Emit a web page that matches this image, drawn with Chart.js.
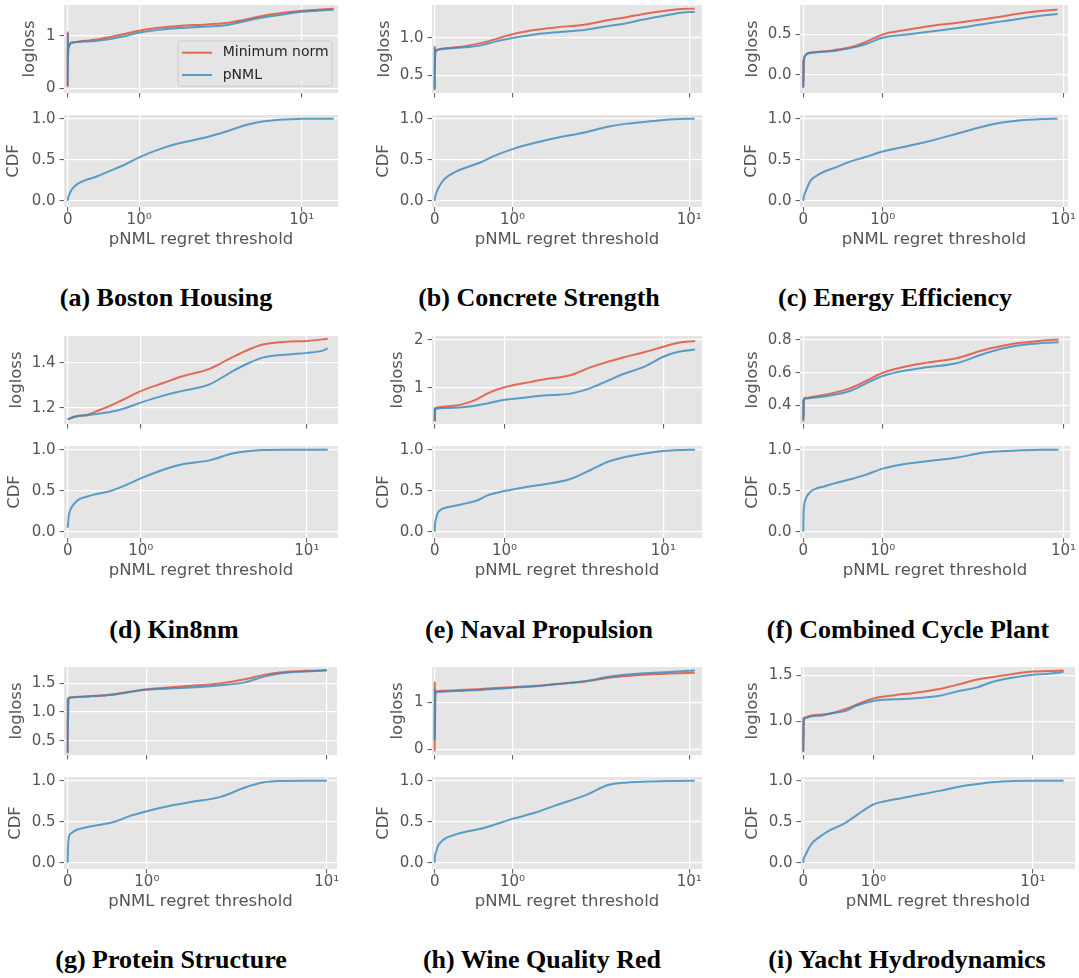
<!DOCTYPE html>
<html>
<head>
<meta charset="utf-8">
<script src="https://cdn.jsdelivr.net/npm/chart.js@4.4.1/dist/chart.umd.min.js"></script>
<style>
  html, body { margin: 0; padding: 0; background: #fff; }
  #page { position: relative; width: 1079px; height: 978px; overflow: hidden; }
  #page canvas { position: absolute; }
  .caption {
    position: absolute; white-space: nowrap; color: #000;
    font-family: 'Liberation Serif', 'Times New Roman', serif; font-weight: bold; font-size: 26px;
    transform: translate(-50%, -50%);
  }
</style>
</head>
<body>
<div id="page"></div>
<script>
// x tick values / labels (threshold axis)
const xTickValues = [0, 1, 10];
const xTickLabels = ['0', '10⁰', '10¹'];

// (a) Boston Housing
const bostonX = [0, 0.001, 0.002, 0.004, 0.01, 0.03, 0.06, 0.1, 0.2, 0.3, 0.5, 0.7, 1, 1.5, 2, 3, 4, 5, 6, 8, 10, 12, 14.5];
const bostonMinNorm = [0.02, 1.08, 0.5, 0.72, 0.8, 0.87, 0.88, 0.89, 0.91, 0.93, 0.98, 1.03, 1.10, 1.16, 1.19, 1.22, 1.25, 1.31, 1.37, 1.44, 1.48, 1.50, 1.52];
const bostonPnml = [0.05, 1.05, 0.52, 0.7, 0.78, 0.86, 0.875, 0.885, 0.895, 0.905, 0.94, 0.99, 1.06, 1.12, 1.15, 1.18, 1.21, 1.28, 1.34, 1.41, 1.46, 1.48, 1.50];
const bostonCdf = [0, 0.01, 0.02, 0.035, 0.06, 0.12, 0.17, 0.21, 0.26, 0.29, 0.365, 0.43, 0.53, 0.635, 0.70, 0.775, 0.85, 0.92, 0.96, 0.99, 0.998, 1.0, 1.0];

// (b) Concrete Strength
const concreteX = [0, 0.001, 0.002, 0.004, 0.01, 0.03, 0.06, 0.1, 0.2, 0.3, 0.5, 0.7, 1, 1.5, 2, 3, 4, 5, 6, 8, 10, 10.6];
const concreteMinNorm = [0.3, 0.89, 0.6, 0.8, 0.83, 0.845, 0.855, 0.86, 0.875, 0.89, 0.93, 0.98, 1.05, 1.11, 1.14, 1.18, 1.24, 1.28, 1.32, 1.37, 1.39, 1.39];
const concretePnml = [0.32, 0.87, 0.58, 0.78, 0.82, 0.84, 0.85, 0.855, 0.865, 0.875, 0.9, 0.95, 1.0, 1.05, 1.075, 1.11, 1.16, 1.2, 1.245, 1.31, 1.345, 1.345];
const concreteCdf = [0, 0.01, 0.025, 0.045, 0.08, 0.15, 0.22, 0.28, 0.355, 0.40, 0.47, 0.55, 0.63, 0.71, 0.765, 0.835, 0.905, 0.94, 0.96, 0.99, 1.0, 1.0];

// (c) Energy Efficiency
const energyX = [0, 0.001, 0.002, 0.004, 0.01, 0.03, 0.06, 0.1, 0.2, 0.3, 0.5, 0.7, 1, 1.5, 2, 3, 4, 5, 6, 8, 9.4];
const energyMinNorm = [-0.17, 0.2, -0.08, 0.15, 0.22, 0.26, 0.275, 0.28, 0.29, 0.305, 0.34, 0.40, 0.50, 0.56, 0.60, 0.645, 0.685, 0.72, 0.755, 0.795, 0.81];
const energyPnml = [-0.15, 0.18, -0.1, 0.14, 0.22, 0.255, 0.27, 0.275, 0.285, 0.295, 0.33, 0.375, 0.46, 0.50, 0.53, 0.58, 0.625, 0.66, 0.69, 0.735, 0.755];
const energyCdf = [0, 0.01, 0.025, 0.045, 0.08, 0.15, 0.24, 0.29, 0.36, 0.40, 0.48, 0.53, 0.60, 0.665, 0.72, 0.82, 0.90, 0.95, 0.975, 0.995, 1.0];

// (d) Kin8nm
const kinX = [0, 0.01, 0.03, 0.06, 0.1, 0.2, 0.3, 0.5, 0.7, 1, 1.5, 2, 3, 4, 5, 6, 8, 10, 12, 12.7];
const kinMinNorm = [1.149, 1.152, 1.155, 1.161, 1.165, 1.17, 1.185, 1.212, 1.239, 1.275, 1.311, 1.34, 1.374, 1.423, 1.46, 1.483, 1.495, 1.498, 1.505, 1.508];
const kinPnml = [1.149, 1.152, 1.155, 1.161, 1.165, 1.168, 1.173, 1.183, 1.198, 1.224, 1.255, 1.275, 1.305, 1.36, 1.40, 1.425, 1.438, 1.445, 1.455, 1.465];
const kinCdf = [0.05, 0.2, 0.285, 0.34, 0.39, 0.43, 0.46, 0.5, 0.56, 0.65, 0.755, 0.82, 0.87, 0.95, 0.985, 0.996, 1.0, 1.0, 1.0, 1.0];

// (e) Naval Propulsion
const navalX = [0, 0.001, 0.002, 0.004, 0.01, 0.03, 0.06, 0.1, 0.2, 0.3, 0.5, 0.7, 1, 1.5, 2, 3, 4, 5, 6, 8, 10, 12, 14.6];
const navalMinNorm = [0.30, 0.58, 0.35, 0.55, 0.58, 0.59, 0.60, 0.61, 0.625, 0.655, 0.755, 0.895, 1.014, 1.105, 1.175, 1.265, 1.433, 1.545, 1.63, 1.75, 1.86, 1.944, 1.98];
const navalPnml = [0.30, 0.57, 0.33, 0.54, 0.565, 0.57, 0.575, 0.578, 0.585, 0.595, 0.63, 0.68, 0.75, 0.80, 0.84, 0.88, 1.0, 1.15, 1.28, 1.45, 1.65, 1.755, 1.80];
const navalCdf = [0, 0.05, 0.08, 0.11, 0.147, 0.23, 0.27, 0.29, 0.315, 0.336, 0.378, 0.45, 0.496, 0.546, 0.576, 0.643, 0.756, 0.853, 0.903, 0.954, 0.983, 0.995, 1.0];

// (f) Combined Cycle Plant
const ccppX = [0, 0.001, 0.002, 0.004, 0.01, 0.03, 0.06, 0.1, 0.2, 0.3, 0.5, 0.7, 1, 1.5, 2, 3, 4, 5, 6, 8, 9.5];
const ccppMinNorm = [0.30, 0.44, 0.33, 0.42, 0.445, 0.447, 0.45, 0.455, 0.465, 0.478, 0.506, 0.545, 0.6, 0.64, 0.662, 0.69, 0.735, 0.762, 0.78, 0.797, 0.804];
const ccppPnml = [0.31, 0.435, 0.32, 0.41, 0.44, 0.442, 0.445, 0.448, 0.455, 0.465, 0.49, 0.53, 0.58, 0.615, 0.633, 0.66, 0.71, 0.745, 0.765, 0.782, 0.787];
const ccppCdf = [0, 0.12, 0.2, 0.27, 0.35, 0.43, 0.486, 0.52, 0.556, 0.59, 0.64, 0.69, 0.77, 0.83, 0.86, 0.905, 0.96, 0.98, 0.99, 1.0, 1.0];

// (g) Protein Structure
const proteinX = [0, 0.001, 0.002, 0.004, 0.01, 0.03, 0.06, 0.1, 0.2, 0.3, 0.5, 0.7, 1, 1.5, 2, 3, 4, 5, 6, 8, 10];
const proteinMinNorm = [0.28, 1.25, 0.72, 1.1, 1.24, 1.255, 1.26, 1.265, 1.275, 1.285, 1.31, 1.35, 1.395, 1.43, 1.455, 1.5, 1.57, 1.645, 1.685, 1.715, 1.725];
const proteinPnml = [0.3, 1.23, 0.74, 1.08, 1.24, 1.25, 1.255, 1.26, 1.27, 1.28, 1.305, 1.345, 1.385, 1.41, 1.425, 1.465, 1.515, 1.615, 1.67, 1.705, 1.725];
const proteinCdf = [0, 0.1, 0.17, 0.235, 0.318, 0.36, 0.39, 0.41, 0.44, 0.46, 0.5, 0.566, 0.628, 0.698, 0.74, 0.806, 0.917, 0.98, 0.996, 1.0, 1.0];

// (h) Wine Quality Red
const wineX = [0, 0.001, 0.002, 0.004, 0.01, 0.03, 0.06, 0.1, 0.2, 0.3, 0.5, 0.7, 1, 1.5, 2, 3, 4, 5, 6, 8, 10, 10.6];
const wineMinNorm = [-0.05, 1.45, 0.3, 1.1, 1.24, 1.245, 1.25, 1.255, 1.265, 1.275, 1.29, 1.31, 1.33, 1.36, 1.395, 1.45, 1.53, 1.57, 1.595, 1.62, 1.635, 1.64];
const winePnml = [0.2, 1.3, 0.25, 1.05, 1.22, 1.225, 1.23, 1.235, 1.245, 1.255, 1.27, 1.29, 1.315, 1.35, 1.39, 1.46, 1.55, 1.6, 1.625, 1.655, 1.68, 1.685];
const wineCdf = [0, 0.04, 0.07, 0.1, 0.125, 0.21, 0.26, 0.3, 0.346, 0.375, 0.415, 0.465, 0.535, 0.615, 0.7, 0.825, 0.95, 0.979, 0.988, 0.996, 1.0, 1.0];

// (i) Yacht Hydrodynamics
const yachtX = [0, 0.001, 0.002, 0.004, 0.01, 0.03, 0.06, 0.1, 0.2, 0.3, 0.5, 0.7, 1, 1.5, 2, 3, 4, 5, 6, 8, 10, 12, 14.4];
const yachtMinNorm = [0.67, 1.04, 0.78, 0.98, 1.037, 1.045, 1.056, 1.065, 1.074, 1.085, 1.13, 1.185, 1.248, 1.285, 1.307, 1.352, 1.407, 1.456, 1.48, 1.52, 1.545, 1.548, 1.555];
const yachtPnml = [0.66, 1.02, 0.77, 0.97, 1.026, 1.035, 1.048, 1.055, 1.063, 1.085, 1.11, 1.174, 1.222, 1.24, 1.248, 1.278, 1.333, 1.37, 1.426, 1.48, 1.507, 1.52, 1.537];
const yachtCdf = [0, 0.02, 0.04, 0.055, 0.07, 0.12, 0.194, 0.256, 0.339, 0.4, 0.483, 0.587, 0.71, 0.773, 0.814, 0.876, 0.93, 0.959, 0.98, 0.996, 1.0, 1.0, 1.0];

const RED = 'rgba(226, 74, 51, 0.8)';
const BLUE = 'rgba(52, 138, 189, 0.8)';
const TXT = '#555555';
const TICK_SIZE = 15, TITLE_SIZE = 16.5;

// layout in page pixels
const AXIS_W = 64, PAD_T = 14, PAD_R = 16;
const LOSS_H = 88, CDF_H = 92, CDF_GAP = 110;
const ROW_TOPS = [5, 336, 667];
const CAP_Y = [298, 630, 960];

const panels = [
  { cap: '(a) Boston Housing', capX: 166, x: bostonX, mn: bostonMinNorm, pn: bostonPnml, cdf: bostonCdf,
    box: [64, 338, 0], xRange: [-0.0336, 15.25], loss: [-0.09, 1.59], step: 1, lossOff: 34, cdfOff: 50, legend: true },
  { cap: '(b) Concrete Strength', capX: 539, x: concreteX, mn: concreteMinNorm, pn: concretePnml, cdf: concreteCdf,
    box: [432, 702, 0], xRange: [-0.0226, 11.47], loss: [0.263, 1.44], step: 0.5, lossOff: 47, cdfOff: 48 },
  { cap: '(c) Energy Efficiency', capX: 895, x: energyX, mn: energyMinNorm, pn: energyPnml, cdf: energyCdf,
    box: [800, 1068, 0], xRange: [-0.027, 10.5], loss: [-0.229, 0.867], step: 0.5, lossOff: 47.5, cdfOff: 48 },
  { cap: '(d) Kin8nm', capX: 174, x: kinX, mn: kinMinNorm, pn: kinPnml, cdf: kinCdf,
    box: [64, 338, 1], xRange: [-0.0329, 14.27], loss: [1.129, 1.52], step: 0.2, lossOff: 47.3, cdfOff: 49.5 },
  { cap: '(e) Naval Propulsion', capX: 539, x: navalX, mn: navalMinNorm, pn: navalPnml, cdf: navalCdf,
    box: [432, 702, 1], xRange: [-0.0254, 15.84], loss: [0.245, 2.084], step: 1, lossOff: 34, cdfOff: 48 },
  { cap: '(f) Combined Cycle Plant', capX: 908, x: ccppX, mn: ccppMinNorm, pn: ccppPnml, cdf: ccppCdf,
    box: [800, 1070, 1], xRange: [-0.027, 10.72], loss: [0.286, 0.825], step: 0.2, lossOff: 47.2, cdfOff: 47 },
  { cap: '(g) Protein Structure', capX: 171, x: proteinX, mn: proteinMinNorm, pn: proteinPnml, cdf: proteinCdf,
    box: [64, 337, 2], xRange: [-0.0304, 11.14], loss: [0.253, 1.782], step: 0.5, lossOff: 47.7, cdfOff: 48 },
  { cap: '(h) Wine Quality Red', capX: 542, x: wineX, mn: wineMinNorm, pn: winePnml, cdf: wineCdf,
    box: [432, 702, 2], xRange: [-0.0226, 11.47], loss: [-0.123, 1.761], step: 1, lossOff: 34.3, cdfOff: 48 },
  { cap: '(i) Yacht Hydrodynamics', capX: 907, x: yachtX, mn: yachtMinNorm, pn: yachtPnml, cdf: yachtCdf,
    box: [801, 1075, 2], xRange: [-0.0215, 16.47], loss: [0.63, 1.593], step: 0.5, lossOff: 48, cdfOff: 48 }
];

// threshold axis: linear near 0, logarithmic above ~1 (like matplotlib symlog)
const SOFT = 0.85;
function fwd(v) { return Math.log10(1 + v / SOFT); }
function inv(t) { return SOFT * (Math.pow(10, t) - 1); }

class ThresholdScale extends Chart.LinearScale {
  buildTicks() {
    return xTickValues.filter(v => v >= this.min && v <= this.max).map(v => ({ value: v }));
  }
  getPixelForValue(value) {
    const a = fwd(this.min), b = fwd(this.max);
    return this.getPixelForDecimal((fwd(value) - a) / (b - a));
  }
  getValueForPixel(pixel) {
    const a = fwd(this.min), b = fwd(this.max);
    return inv(a + this.getDecimalForPixel(pixel) * (b - a));
  }
}
ThresholdScale.id = 'threshold';
ThresholdScale.defaults = {};
Chart.register(ThresholdScale);

Chart.defaults.font.family = '"DejaVu Sans", sans-serif';
Chart.defaults.color = TXT;

// gray plot background, ggplot style
const panelBg = {
  id: 'panelBg',
  beforeDraw(chart) {
    const { ctx, chartArea: a } = chart;
    ctx.save();
    ctx.fillStyle = '#E5E5E5';
    ctx.fillRect(a.left, a.top, a.width, a.height);
    ctx.restore();
  }
};

// legend box inside the first logloss plot
const insideLegend = {
  id: 'insideLegend',
  afterDatasetsDraw(chart) {
    const { ctx, chartArea: a } = chart;
    const w = 154, h = 45;
    const x = a.right - 6 - w, y = a.top + 36;
    ctx.save();
    ctx.beginPath();
    ctx.roundRect(x, y, w, h, 3);
    ctx.fillStyle = 'rgba(229, 229, 229, 0.8)';
    ctx.fill();
    ctx.strokeStyle = '#cccccc';
    ctx.lineWidth = 1;
    ctx.stroke();
    ctx.font = '14px "DejaVu Sans"';
    ctx.textBaseline = 'middle';
    chart.data.datasets.forEach((ds, i) => {
      const ly = y + 11.7 + i * 22.3;
      ctx.beginPath();
      ctx.moveTo(x + 4, ly);
      ctx.lineTo(x + 34, ly);
      ctx.strokeStyle = ds.borderColor;
      ctx.lineWidth = 2;
      ctx.stroke();
      ctx.fillStyle = '#262626';
      ctx.fillText(ds.label, x + 44.7, ly);
    });
    ctx.restore();
  }
};

const gridOpts = { color: '#ffffff', lineWidth: 1.2, tickLength: 4.5, tickColor: TXT, tickWidth: 1 };

function xAxis(range, showLabels) {
  return {
    type: 'threshold',
    min: range[0], max: range[1],
    border: { display: false },
    grid: gridOpts,
    ticks: {
      display: showLabels, autoSkip: false, maxRotation: 0, padding: 0,
      font: { size: TICK_SIZE },
      callback: v => xTickLabels[xTickValues.indexOf(v)]
    },
    title: { display: showLabels, text: 'pNML regret threshold', font: { size: TITLE_SIZE }, padding: { top: 0, bottom: 5 } },
    afterFit: s => { s.height = showLabels ? 48 : 8; }
  };
}

function yAxis(range, step, text, off) {
  const dec = step < 1 ? 1 : 0;
  return {
    min: range[0], max: range[1],
    border: { display: false },
    grid: gridOpts,
    ticks: { stepSize: step, includeBounds: false, padding: 4, font: { size: TICK_SIZE }, callback: v => v.toFixed(dec) },
    title: { display: true, text: text, font: { size: TITLE_SIZE }, padding: { top: AXIS_W - off - TITLE_SIZE * 0.6, bottom: 0 } },
    afterFit: s => { s.width = AXIS_W; }
  };
}

function pairs(xs, ys) {
  return xs.map((v, i) => ({ x: v, y: ys[i] }));
}

const page = document.getElementById('page');

function makeCanvas(left, top, w, h) {
  const c = document.createElement('canvas');
  c.width = w; c.height = h;
  c.style.left = left + 'px'; c.style.top = top + 'px';
  c.style.width = w + 'px'; c.style.height = h + 'px';
  page.appendChild(c);
  return c;
}

const lineDefaults = { pointRadius: 0, borderWidth: 2, cubicInterpolationMode: 'monotone', fill: false };

function baseOptions(bottomPad) {
  return {
    responsive: false, devicePixelRatio: 1, animation: false,
    layout: { padding: { left: 0, top: PAD_T, right: PAD_R, bottom: bottomPad } },
    plugins: { legend: { display: false }, tooltip: { enabled: false } }
  };
}

panels.forEach(p => {
  const [axL, axR, row] = p.box;
  const y0 = ROW_TOPS[row];
  const w = axR - axL + AXIS_W + PAD_R;

  // logloss
  const lossOpts = baseOptions(6);
  lossOpts.scales = { x: xAxis(p.xRange, false), y: yAxis(p.loss, p.step, 'logloss', p.lossOff) };
  new Chart(makeCanvas(axL - AXIS_W, y0 - PAD_T, w, PAD_T + LOSS_H + 8 + 6), {
    type: 'line',
    data: {
      datasets: [
        Object.assign({ label: 'Minimum norm', data: pairs(p.x, p.mn), borderColor: RED, order: 1 }, lineDefaults),
        Object.assign({ label: 'pNML', data: pairs(p.x, p.pn), borderColor: BLUE, order: 0 }, lineDefaults)
      ]
    },
    options: lossOpts,
    plugins: p.legend ? [panelBg, insideLegend] : [panelBg]
  });

  // CDF
  const cdfOpts = baseOptions(4);
  cdfOpts.scales = { x: xAxis(p.xRange, true), y: yAxis([-0.075, 1.045], 0.5, 'CDF', p.cdfOff) };
  new Chart(makeCanvas(axL - AXIS_W, y0 + CDF_GAP - PAD_T, w, PAD_T + CDF_H + 48 + 4), {
    type: 'line',
    data: {
      datasets: [
        Object.assign({ label: 'CDF', data: pairs(p.x, p.cdf), borderColor: BLUE }, lineDefaults)
      ]
    },
    options: cdfOpts,
    plugins: [panelBg]
  });

  const cap = document.createElement('div');
  cap.className = 'caption';
  cap.textContent = p.cap;
  cap.style.left = p.capX + 'px';
  cap.style.top = CAP_Y[row] + 'px';
  page.appendChild(cap);
});
</script>
</body>
</html>
